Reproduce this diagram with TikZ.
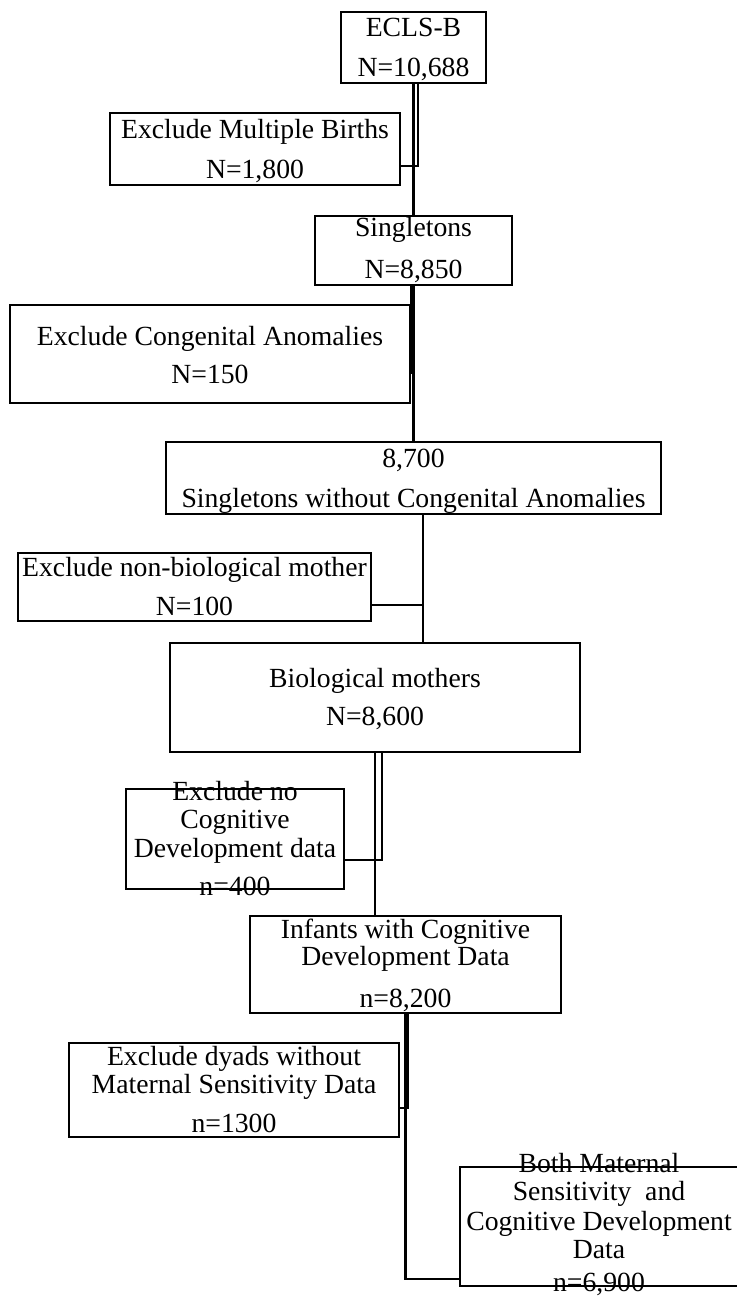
\documentclass[tikz,border=0pt]{standalone}
\usepackage{fontspec}
\setmainfont{Liberation Serif}
\newcommand\mybox[5]{\node[box, minimum width={(#4-#2)*1pt}, minimum height={(#5-#3)*1pt}] (#1) at ({(#2+#4)/2},{(#3+#5)/2}) {};}
\newcommand\txtline[4]{\node[txt] (#1) at (#2,#3) {#4};}
\begin{document}
\begin{tikzpicture}[x=1pt,y=-1pt,
  box/.style={draw=black, line width=2.6pt, inner sep=0pt},
  txt/.style={anchor=base, inner sep=0pt, font=\fontsize{27.7pt}{28pt}\selectfont},
  conn/.style={draw=black, line width=2.6pt}]
\useasboundingbox (0,0) rectangle (736,1298);
% boxes
\mybox{ecls}{341}{12}{486}{83}
\mybox{exmb}{110}{113}{400}{185}
\mybox{sing}{315}{216}{512}{285}
\mybox{excg}{10}{305}{410}{403}
\mybox{s87}{166}{442}{661}{514}
\mybox{nbio}{18}{553}{371}{621}
\mybox{bio}{170}{643}{580}{752}
\mybox{excog}{126}{789}{344}{889}
\mybox{inf}{250}{916}{561}{1013}
\mybox{exdy}{69}{1043}{399}{1137}
\mybox{both}{460}{1167}{738}{1286}
% texts
\txtline{t1a}{413.5}{37}{ECLS-B}
\txtline{t1b}{413.5}{77}{N=10,688}
\txtline{t2a}{255}{138}{Exclude Multiple Births}
\txtline{t2b}{255}{178}{N=1,800}
\txtline{t3a}{413.5}{236}{Singletons}
\txtline{t3b}{413.5}{278}{N=8,850}
\txtline{t4a}{210}{345}{Exclude Congenital Anomalies}
\txtline{t4b}{210}{383}{N=150}
\txtline{t5a}{413.5}{467}{8,700}
\txtline{t5b}{413.5}{507}{Singletons without Congenital Anomalies}
\txtline{t6a}{194.5}{576}{Exclude non-biological mother}
\txtline{t6b}{194.5}{615}{N=100}
\txtline{t7a}{375}{687}{Biological mothers}
\txtline{t7b}{375}{725}{N=8,600}
\txtline{t8a}{235}{800}{Exclude no}
\txtline{t8b}{235}{828}{Cognitive}
\txtline{t8c}{235}{857}{Development data}
\txtline{t8d}{235}{895}{n=400}
\txtline{t9a}{405.5}{938}{Infants with Cognitive}
\txtline{t9b}{405.5}{965}{Development Data}
\txtline{t9c}{405.5}{1007}{n=8,200}
\txtline{t10a}{234}{1065}{Exclude dyads without}
\txtline{t10b}{234}{1093}{Maternal Sensitivity Data}
\txtline{t10c}{234}{1132}{n=1300}
\txtline{t11a}{599}{1172}{Both Maternal}
\txtline{t11b}{599}{1200}{Sensitivity\ \ and}
\txtline{t11c}{599}{1230}{Cognitive Development}
\txtline{t11d}{599}{1258}{Data}
\txtline{t11e}{599}{1291}{n=6,900}
% connectors
\coordinate (c1) at (418,166);
\coordinate (c2) at (411.5,373);
\coordinate (c3) at (423,605);
\coordinate (c4) at (382,860);
\coordinate (c5) at (405.5,1279);
\coordinate (c6) at (408,1108);
\draw[conn] (ecls.south) -- (sing.north);
\draw[conn] (ecls.south -| c1) -- (c1) -- (c1 -| exmb.east);
\draw[conn] (sing.south) -- (s87.north);
\draw[conn] (sing.south -| c2) -- (c2) -- (c2 -| excg.east);
\draw[conn] (s87.south -| c3) -- (bio.north -| c3);
\draw[conn] (c3) -- (c3 -| nbio.east);
\draw[conn] (bio.south) -- (inf.north -| bio.south);
\draw[conn] (bio.south -| c4) -- (c4) -- (c4 -| excog.east);
\draw[conn] (inf.south) -- (c5) -- (c5 -| both.west);
\draw[conn] (inf.south -| c6) -- (c6) -- (c6 -| exdy.east);
\end{tikzpicture}
\end{document}
